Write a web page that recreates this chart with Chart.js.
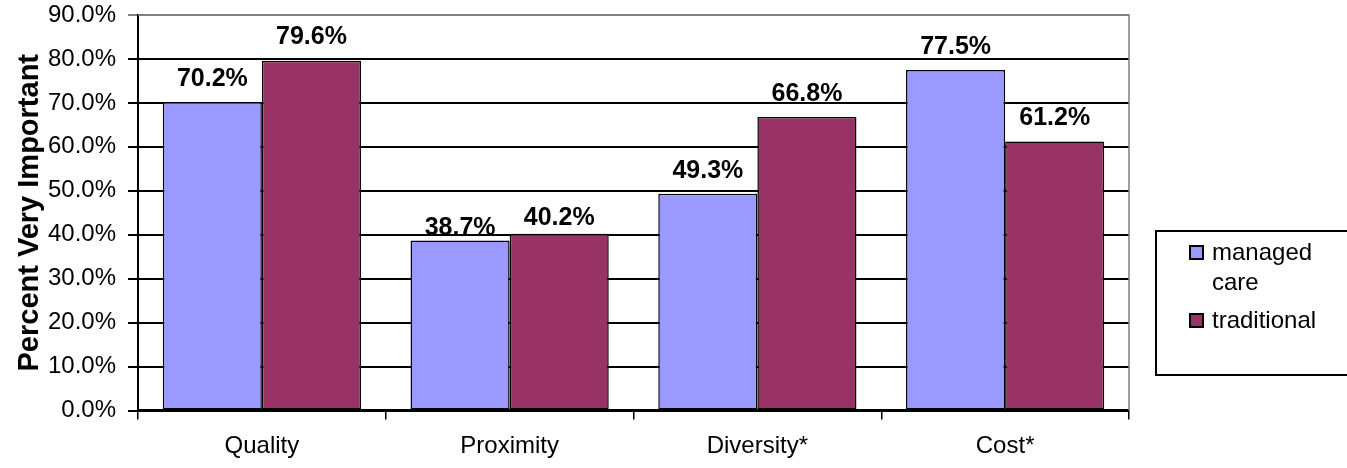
<!DOCTYPE html>
<html>
<head>
<meta charset="utf-8">
<script src="https://cdn.jsdelivr.net/npm/chart.js@4.4.0/dist/chart.umd.min.js"></script>
<style>
  html, body { margin: 0; padding: 0; background: #fff; overflow: hidden; }
  #wrap { position: relative; width: 1347px; height: 468px; overflow: hidden; }
  #chart { position: absolute; left: 0; top: 0; }
  .legend-box { position: absolute; left: 1155px; top: 230px; width: 210px; height: 146px;
    border: 2px solid #000; box-sizing: border-box; }
  .swatch { position: absolute; width: 15px; height: 15px; border: 2px solid #000; box-sizing: border-box; }
  .legend-text { position: absolute; width: 125px; font: 24px/30px "Liberation Sans", Arial, sans-serif; color: #000; }
</style>
</head>
<body>
<div id="wrap">
  <canvas id="chart" width="1347" height="468"></canvas>
  <div class="legend-box"></div>
</div>
<script>
const categories = ['Quality', 'Proximity', 'Diversity*', 'Cost*'];
const seriesNames = ['managed care', 'traditional'];
const managedCare = [70.2, 38.7, 49.3, 77.5];
const traditional = [79.6, 40.2, 66.8, 61.2];
const yTicks = [0, 10, 20, 30, 40, 50, 60, 70, 80, 90];

const colors = ['#9999FF', '#993366'];

// legend drawn as html next to the plot
const wrap = document.getElementById('wrap');
const legendTops = [237, 305];
seriesNames.forEach((name, i) => {
  const sw = document.createElement('div');
  sw.className = 'swatch';
  sw.style.left = '1189px';
  sw.style.top = (legendTops[i] + 8) + 'px';
  sw.style.background = colors[i];
  wrap.appendChild(sw);
  const t = document.createElement('div');
  t.className = 'legend-text';
  t.style.left = '1212px';
  t.style.top = legendTops[i] + 'px';
  t.textContent = name;
  wrap.appendChild(t);
});

const barLabels = {
  id: 'barLabels',
  afterDatasetsDraw(chart, args, opts) {
    const ctx = chart.ctx;
    ctx.save();
    ctx.font = 'bold 25px "Liberation Sans", Arial, sans-serif';
    ctx.fillStyle = '#000';
    ctx.textAlign = 'center';
    ctx.textBaseline = 'alphabetic';
    chart.data.datasets.forEach((ds, i) => {
      chart.getDatasetMeta(i).data.forEach((bar, j) => {
        ctx.fillText(ds.data[j].toFixed(1) + '%', bar.x, bar.y - opts.lift[i][j]);
      });
    });
    ctx.restore();
  }
};

const plotFrame = {
  id: 'plotFrame',
  beforeDatasetsDraw(chart) {
    const { ctx, chartArea: a } = chart;
    ctx.save();
    ctx.strokeStyle = '#808080';
    ctx.lineWidth = 1.5;
    ctx.beginPath();
    ctx.moveTo(a.left, a.top);
    ctx.lineTo(a.right, a.top);
    ctx.lineTo(a.right, a.bottom);
    ctx.stroke();
    ctx.restore();
  }
};

const tickFont = { family: '"Liberation Sans", Arial, sans-serif', size: 24 };

new Chart(document.getElementById('chart'), {
  type: 'bar',
  data: {
    labels: categories,
    datasets: [
      { label: seriesNames[0], data: managedCare, backgroundColor: colors[0] },
      { label: seriesNames[1], data: traditional, backgroundColor: colors[1] }
    ].map(d => Object.assign(d, {
      borderColor: '#000', borderWidth: 1.5, borderSkipped: false,
      categoryPercentage: 0.8, barPercentage: 1.0
    }))
  },
  options: {
    responsive: false,
    animation: false,
    devicePixelRatio: 1,
    layout: { padding: { left: 0, top: 0, right: 218, bottom: 0 } },
    plugins: {
      legend: { display: false },
      tooltip: { enabled: false },
      barLabels: { lift: [[16, 5, 16, 16], [17, 9, 16, 17]] }
    },
    scales: {
      x: {
        grid: { drawOnChartArea: false, drawTicks: true, tickLength: 9, color: '#000', lineWidth: 1.5, offset: true },
        border: { color: '#000', width: 2.5 },
        ticks: { color: '#000', font: tickFont, padding: 12, maxRotation: 0 },
        afterFit(s) { s.height = 57.5; }
      },
      y: {
        min: 0,
        max: 90,
        afterBuildTicks(s) { s.ticks = yTicks.map(v => ({ value: v })); },
        grid: {
          color: c => (c.tick && c.tick.value === 90 ? '#808080' : '#000'),
          lineWidth: 2,
          tickLength: 10,
          drawTicks: true
        },
        border: { color: '#000', width: 2 },
        ticks: { color: '#000', font: tickFont, padding: 12, callback: v => v.toFixed(1) + '%' },
        title: {
          display: true,
          text: 'Percent Very Important',
          color: '#000',
          font: { family: '"Liberation Sans", Arial, sans-serif', size: 29, weight: 'bold' },
          padding: { top: 13, bottom: 0 }
        },
        afterFit(s) {
          s.width = 138;
          s.paddingTop = 15;
          s.paddingBottom = 0;
        }
      }
    }
  },
  plugins: [barLabels, plotFrame]
});
</script>
</body>
</html>
